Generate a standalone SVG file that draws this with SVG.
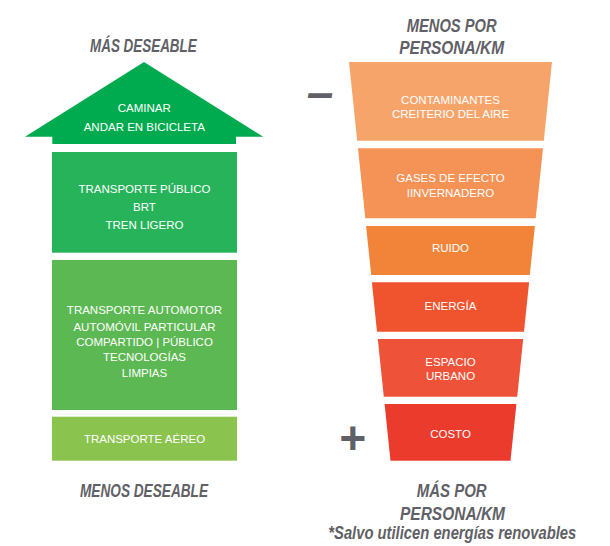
<svg xmlns="http://www.w3.org/2000/svg" width="610" height="546" viewBox="0 0 610 546">
<style>
.t{font-family:"Liberation Sans",Arial,sans-serif;font-size:11.5px;fill:#fff;text-anchor:middle}
.h{font-family:"Liberation Sans",Arial,sans-serif;font-size:18.5px;font-weight:bold;font-style:italic;fill:#5f6166}
.s{font-family:"Liberation Sans",Arial,sans-serif;font-weight:bold;font-style:italic;fill:#5f6166;text-anchor:middle}
</style>
<rect width="610" height="546" fill="#fff"/>
<g id="left-headers">
<text class="h" x="90" y="51.7" textLength="106.7" lengthAdjust="spacingAndGlyphs">MÁS DESEABLE</text>
<text class="h" x="80" y="496.5" textLength="128" lengthAdjust="spacingAndGlyphs">MENOS DESEABLE</text>
</g>
<g id="arrow-walk">
<polygon points="144,62 263.3,136.7 236,136.7 236,144 52.3,144 52.3,136.7 25,136.7" fill="#00ab4f"/>
<text class="t" x="144.3" y="112.3">CAMINAR</text>
<text class="t" x="144.3" y="130.7">ANDAR EN BICICLETA</text>
</g>
<g id="box-public">
<rect x="52" y="152" width="185" height="100.7" fill="#27b35a"/>
<text class="t" x="144.5" y="193.3">TRANSPORTE PÚBLICO</text>
<text class="t" x="144.5" y="210.7">BRT</text>
<text class="t" x="144.5" y="229">TREN LIGERO</text>
</g>
<g id="box-motor">
<rect x="52" y="260" width="185" height="150" fill="#5cb852"/>
<text class="t" x="144.5" y="314">TRANSPORTE AUTOMOTOR</text>
<text class="t" x="144.5" y="330.7">AUTOMÓVIL PARTICULAR</text>
<text class="t" x="144.5" y="345.7">COMPARTIDO | PÚBLICO</text>
<text class="t" x="144.5" y="361.3">TECNOLOGÍAS</text>
<text class="t" x="144.5" y="376.7">LIMPIAS</text>
</g>
<g id="box-air">
<rect x="52" y="416.7" width="185" height="44" fill="#8bc34f"/>
<text class="t" x="144.5" y="443">TRANSPORTE AÉREO</text>
</g>
<g id="right-headers">
<text class="h" x="406.7" y="31.5" textLength="90" lengthAdjust="spacingAndGlyphs">MENOS POR</text>
<text class="h" x="399.3" y="54" textLength="104.7" lengthAdjust="spacingAndGlyphs">PERSONA/KM</text>
<text class="h" x="416.7" y="496.5" textLength="70" lengthAdjust="spacingAndGlyphs">MÁS POR</text>
<text class="h" x="400" y="520" textLength="105" lengthAdjust="spacingAndGlyphs">PERSONA/KM</text>
<text class="h" x="328.3" y="538.5" font-size="16.5px" textLength="248" lengthAdjust="spacingAndGlyphs">*Salvo utilicen energías renovables</text>
<text class="s" x="320" y="109" font-size="48">–</text>
<text class="s" x="352" y="454" font-size="46">+</text>
</g>
<g id="f-contaminantes">
<polygon points="349,62 552,62 543.8,140.7 357.2,140.7" fill="#f7a46b"/>
<text class="t" x="450.5" y="104">CONTAMINANTES</text>
<text class="t" x="450.5" y="118.3">CREITERIO DEL AIRE</text>
</g>
<g id="f-gases">
<polygon points="358,148.3 543,148.3 535.7,218.3 365.3,218.3" fill="#f59256"/>
<text class="t" x="450.5" y="182.3">GASES DE EFECTO</text>
<text class="t" x="450.5" y="197.3">IINVERNADERO</text>
</g>
<g id="f-ruido">
<polygon points="366.1,226 534.9,226 529.8,275 371.2,275" fill="#f2843a"/>
<text class="t" x="450.5" y="252.3">RUIDO</text>
</g>
<g id="f-energia">
<polygon points="371.9,282.3 529.1,282.3 524,331.7 377,331.7" fill="#ef542e"/>
<text class="t" x="450.5" y="309.7">ENERGÍA</text>
</g>
<g id="f-espacio">
<polygon points="377.8,339 523.2,339 517.2,396.7 383.8,396.7" fill="#ee5238"/>
<text class="t" x="450.5" y="365.7">ESPACIO</text>
<text class="t" x="450.5" y="380">URBANO</text>
</g>
<g id="f-costo">
<polygon points="384.6,404 516.4,404 510.5,460.7 390.5,460.7" fill="#eb3b2d"/>
<text class="t" x="450.5" y="438.3">COSTO</text>
</g>
<g id="connectors"></g>
</svg>
